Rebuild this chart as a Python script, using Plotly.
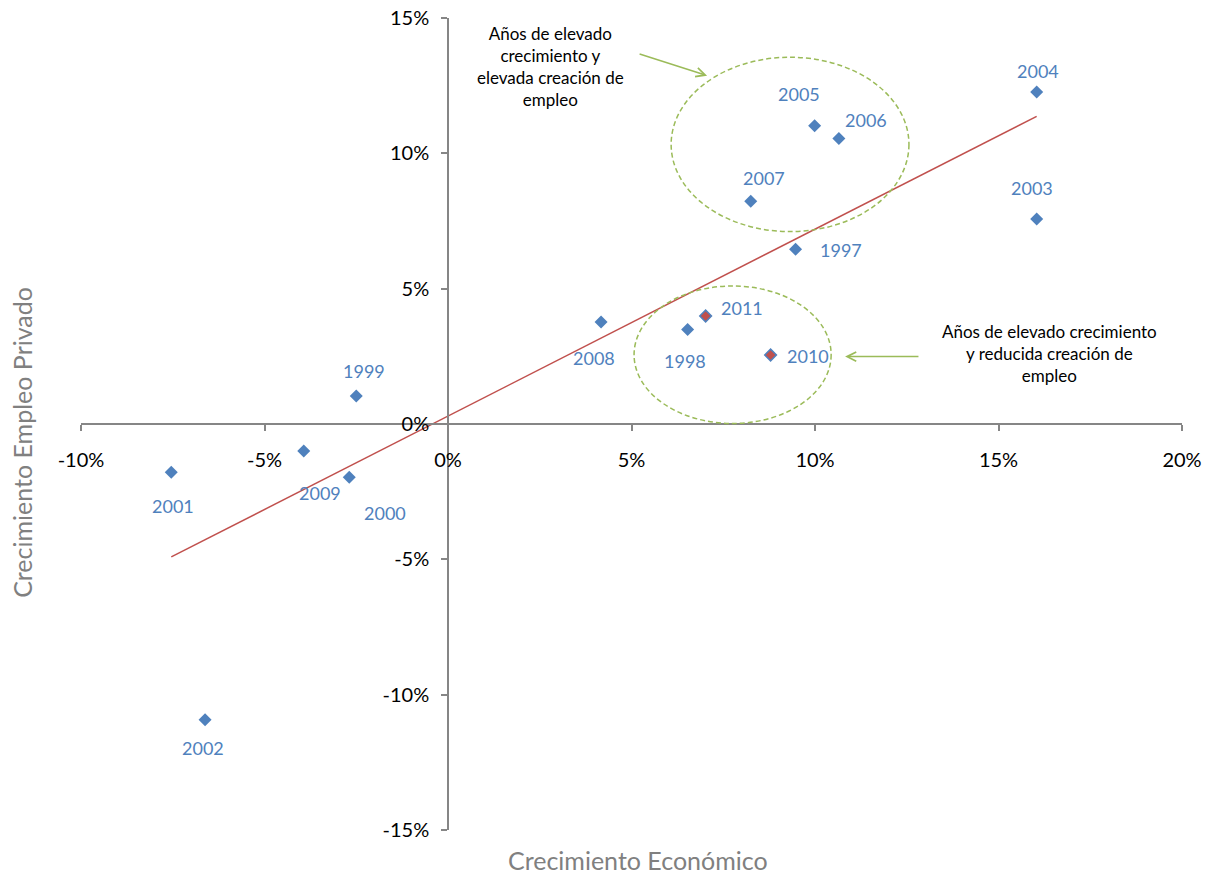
import numpy as np
import plotly.graph_objects as go

# ---------------- data ----------------
years = ["1997", "1998", "1999", "2000", "2001", "2002", "2003", "2004",
         "2005", "2006", "2007", "2008", "2009", "2010", "2011"]
econ_growth = [9.47, 6.53, -2.50, -2.69, -7.54, -6.62, 16.04, 16.04,
               9.99, 10.65, 8.25, 4.17, -3.93, 8.79, 7.02]          # %
emp_growth = [6.46, 3.49, 1.03, -1.97, -1.78, -10.93, 7.57, 12.27,
              11.02, 10.55, 8.23, 3.77, -1.00, 2.55, 3.99]           # %
highlight_years = ["2010", "2011"]

x_tick_vals = [-10, -5, 0, 5, 10, 15, 20]
x_tick_text = ["-10%", "-5%", "0%", "5%", "10%", "15%", "20%"]
y_tick_vals = [-15, -10, -5, 0, 5, 10, 15]
y_tick_text = ["-15%", "-10%", "-5%", "0%", "5%", "10%", "15%"]

x_title = "Crecimiento Económico"
y_title = "Crecimiento Empleo Privado"
note_high = "Años de elevado<br>crecimiento y<br>elevada creación de<br>empleo"
note_low = "Años de elevado crecimiento<br>y reducida creación de<br>empleo"

# ---------------- styles ----------------
BLUE = "#4F81BD"
RED = "#C0504D"
GREEN = "#9BBB59"
GRAY = "#868686"
FONT = "Lato"

# label offsets in pixels (dx, dy up) per year
label_offsets = {
    "1997": (45, -1), "1998": (-3, -31), "1999": (8, 25), "2000": (36, -36),
    "2001": (2, -34), "2002": (-2, -28), "2003": (-5, 31), "2004": (1, 21),
    "2005": (-16, 32), "2006": (27, 18), "2007": (13, 23), "2008": (-7, -36),
    "2009": (16, -42), "2010": (37, -1), "2011": (36, 8),
}

x_arr = np.array(econ_growth)
y_arr = np.array(emp_growth)
slope, intercept = np.polyfit(x_arr, y_arr, 1)
x_fit = np.array([x_arr.min(), x_arr.max()])
y_fit = slope * x_fit + intercept

is_hl = [y in highlight_years for y in years]

fig = go.Figure()
fig.add_trace(go.Scatter(
    x=[x for x, h in zip(econ_growth, is_hl) if not h],
    y=[y for y, h in zip(emp_growth, is_hl) if not h],
    mode="markers",
    marker=dict(symbol="diamond", size=10, color=BLUE, line=dict(width=0)),
    showlegend=False, hoverinfo="skip",
))
fig.add_trace(go.Scatter(
    x=[x for x, h in zip(econ_growth, is_hl) if h],
    y=[y for y, h in zip(emp_growth, is_hl) if h],
    mode="markers",
    marker=dict(symbol="diamond", size=9, color=RED, line=dict(width=1.5, color=BLUE)),
    showlegend=False, hoverinfo="skip",
))
fig.add_trace(go.Scatter(
    x=x_fit, y=y_fit, mode="lines",
    line=dict(color=RED, width=1.5),
    showlegend=False, hoverinfo="skip",
))

annotations = []
for yr, xv, yv in zip(years, econ_growth, emp_growth):
    dx, dy = label_offsets[yr]
    annotations.append(dict(
        x=xv, y=yv, xref="x", yref="y", text=yr, showarrow=False,
        xshift=dx, yshift=dy, font=dict(family=FONT, size=18, color=BLUE),
    ))

# notes
annotations.append(dict(x=2.79, y=13.21, xref="x", yref="y", text=note_high,
                        showarrow=False, font=dict(family=FONT, size=17, color="#000000")))
annotations.append(dict(x=16.40, y=2.60, xref="x", yref="y", text=note_low,
                        showarrow=False, font=dict(family=FONT, size=17, color="#000000")))
# arrows
annotations.append(dict(x=7.06, y=12.87, ax=5.18, ay=13.69, xref="x", yref="y",
                        axref="x", ayref="y", text="", showarrow=True,
                        arrowhead=5, arrowsize=1.2, arrowwidth=1.5, arrowcolor=GREEN))
annotations.append(dict(x=10.82, y=2.49, ax=12.86, ay=2.49, xref="x", yref="y",
                        axref="x", ayref="y", text="", showarrow=True,
                        arrowhead=5, arrowsize=1.2, arrowwidth=1.5, arrowcolor=GREEN))
# axis titles
annotations.append(dict(x=0.506, y=-0.037, xref="paper", yref="paper", text=x_title,
                        showarrow=False, yanchor="middle",
                        font=dict(family=FONT, size=25, color="#808080")))
annotations.append(dict(x=-0.0536, y=0.478, xref="paper", yref="paper", text=y_title,
                        showarrow=False, textangle=-90, xanchor="center",
                        font=dict(family=FONT, size=25, color="#808080")))

shapes = [
    dict(type="circle", xref="x", yref="y", x0=6.08, x1=12.56, y0=7.11, y1=13.55,
         line=dict(color=GREEN, width=1.5, dash="5px,3px")),
    dict(type="circle", xref="x", yref="y", x0=5.07, x1=10.44, y0=0.02, y1=5.1,
         line=dict(color=GREEN, width=1.5, dash="5px,3px")),
]

fig.update_layout(
    width=1212, height=875,
    margin=dict(l=81, r=30, t=18, b=45, autoexpand=False),
    paper_bgcolor="white", plot_bgcolor="white",
    font=dict(family=FONT),
    annotations=annotations, shapes=shapes,
    xaxis=dict(range=[-10, 20], domain=[0, 1], anchor="free", position=0.5,
               tickvals=x_tick_vals, ticktext=x_tick_text, automargin=False,
               showline=True, linecolor=GRAY, linewidth=1.5,
               ticks="outside", ticklen=6, tickwidth=1.5, tickcolor=GRAY,
               ticklabelstandoff=12,
               showgrid=False, zeroline=False,
               tickfont=dict(family=FONT, size=20, color="#000000")),
    yaxis=dict(range=[-15, 15], domain=[0, 1], anchor="free", position=1/3,
               tickvals=y_tick_vals, ticktext=y_tick_text, automargin=False,
               showline=True, linecolor=GRAY, linewidth=1.5,
               ticks="outside", ticklen=6, tickwidth=1.5, tickcolor=GRAY,
               ticklabelstandoff=8,
               showgrid=False, zeroline=False,
               tickfont=dict(family=FONT, size=20, color="#000000")),
)

fig.write_html("out.html",
               config={"displayModeBar": False},
               post_script="document.body.style.margin='0';document.body.style.overflow='hidden';")
